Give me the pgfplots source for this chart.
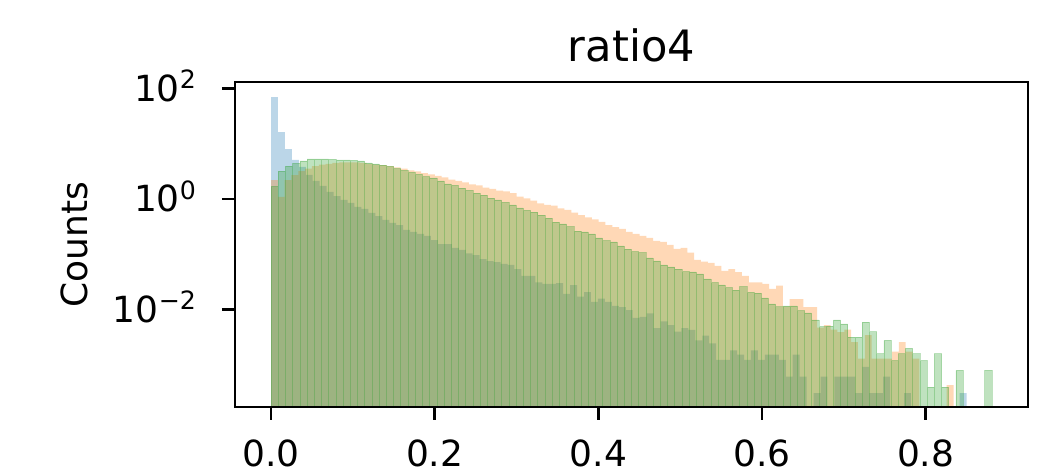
\documentclass[border=0pt]{standalone}
\usepackage{fontspec}
\setmainfont{DejaVu Sans}
\usepackage{pgfplots}
\pgfplotsset{compat=1.18}
\definecolor{c0}{RGB}{31,119,180}
\definecolor{c1}{RGB}{255,127,14}
\definecolor{c2}{RGB}{44,160,44}
\begin{document}
\begin{tikzpicture}
\begin{axis}[
  at={(0,0)}, anchor=south west,
  scale only axis, width=396.5pt, height=162.5pt,
  xmin=-0.044, xmax=0.925,
  ymode=log, ymin=1.72e-4, ymax=131,
  log origin y=infty,
  axis on top,
  tick pos=left, tick align=outside,
  major tick length=6.5pt,
  every tick/.style={black, line width=1.45pt},
  axis line style={line width=1.45pt},
  xtick={0,0.2,0.4,0.6,0.8},
  xticklabels={0.0,0.2,0.4,0.6,0.8},
  ytick={1e-2,1,1e2},
  yticklabels={10\textsuperscript{−2},10\textsuperscript{0},10\textsuperscript{2}},
  yminorticks=false,
  xticklabel style={font=\fontsize{18}{21}\selectfont, anchor=base, yshift=-23.25pt},
  yticklabel style={font=\fontsize{18}{21}\selectfont, anchor=base east, yshift=-6.5pt, xshift=-9pt},
  title={ratio4},
  title style={font=\fontsize{21.6}{25}\selectfont, at={(0.5,1)}, anchor=base, yshift=4pt},
  ylabel={Counts},
  ylabel style={font=\fontsize{18}{21}\selectfont, at={(axis description cs:-0.1866,0.5)}, anchor=base, rotate=0},
]
% blue series
\addplot[ybar interval, fill=c0, fill opacity=0.3, draw=none] table {
0 70
0.0085 16.3
0.017 8.0
0.0255 5.1
0.034 3.8
0.0425 2.72
0.051 2.12
0.0595 1.72
0.068 1.34
0.0765 1.13
0.085 0.96
0.0935 0.85
0.102 0.72
0.1105 0.66
0.119 0.56
0.1275 0.49
0.136 0.42
0.1445 0.37
0.153 0.338
0.1615 0.275
0.17 0.253
0.1785 0.233
0.187 0.214
0.1955 0.181
0.204 0.153
0.2125 0.153
0.221 0.130
0.2295 0.120
0.238 0.104
0.2465 0.096
0.255 0.082
0.2635 0.075
0.272 0.072
0.2805 0.067
0.289 0.064
0.2975 0.054
0.306 0.0404
0.3145 0.0404
0.323 0.031
0.3315 0.029
0.34 0.029
0.3485 0.030
0.357 0.0191
0.3655 0.0277
0.374 0.0171
0.3825 0.0207
0.391 0.0137
0.3995 0.0158
0.408 0.0137
0.4165 0.0116
0.425 0.0110
0.4335 0.00976
0.442 0.00702
0.4505 0.00732
0.459 0.00854
0.4675 0.00458
0.476 0.00610
0.4845 0.00519
0.493 0.00397
0.5015 0.00458
0.51 0.00427
0.5185 0.00275
0.527 0.00336
0.5355 0.00244
0.544 0.00122
0.5525 0.00122
0.561 0.00183
0.5695 0.00153
0.578 0.00122
0.5865 0.00183
0.595 0.00122
0.6035 0.00153
0.612 0.00153
0.6205 0.00122
0.629 0.00061
0.6375 0.00153
0.646 0.00061
0.6545 1e-8
0.663 0.000305
0.6715 0.00061
0.68 1e-8
0.6885 0.00061
0.697 0.00061
0.7055 0.00061
0.714 0.000305
0.7225 0.000915
0.731 0.000305
0.7395 0.000305
0.748 0.00061
0.7565 1e-8
0.765 1e-8
0.7735 0.000305
0.782 1e-8
0.7905 1e-8
0.799 1e-8
0.8075 1e-8
0.816 1e-8
0.8245 1e-8
0.833 1e-8
0.8415 0.000305
0.85 1e-8
};
% orange series
\addplot[ybar interval, fill=c1, fill opacity=0.3, draw=none] table {
0 2.2
0.00834 1.09
0.01668 2.2
0.02502 2.7
0.03336 3.2
0.0417 3.56
0.05004 3.95
0.05838 4.2
0.06672 4.3
0.07506 4.5
0.0834 4.6
0.09174 4.6
0.10008 4.58
0.10842 4.5
0.11676 4.3
0.1251 4.2
0.13344 4.1
0.14178 3.95
0.15012 3.72
0.15846 3.56
0.1668 3.28
0.17514 3.15
0.18348 2.95
0.19182 2.78
0.20016 2.61
0.2085 2.45
0.21684 2.25
0.22518 2.12
0.23352 1.99
0.24186 1.83
0.2502 1.76
0.25854 1.61
0.26688 1.52
0.27522 1.42
0.28356 1.37
0.2919 1.27
0.30024 1.10
0.30858 1.03
0.31692 0.93
0.32526 0.836
0.3336 0.779
0.34194 0.756
0.35028 0.679
0.35862 0.632
0.36696 0.565
0.3753 0.513
0.38364 0.466
0.39198 0.429
0.40032 0.384
0.40866 0.338
0.417 0.308
0.42534 0.287
0.43368 0.253
0.44202 0.233
0.45036 0.214
0.4587 0.197
0.46704 0.174
0.47538 0.167
0.48372 0.147
0.49206 0.125
0.5004 0.130
0.50874 0.107
0.51708 0.079
0.52542 0.0735
0.53376 0.0695
0.5421 0.0614
0.55044 0.050
0.55878 0.054
0.56712 0.0477
0.57546 0.0404
0.5838 0.0311
0.59214 0.0311
0.60048 0.029
0.60882 0.0235
0.61716 0.027
0.6255 0.0114
0.63384 0.0154
0.64218 0.0154
0.65052 0.011
0.65886 0.011
0.6672 0.0047
0.67554 0.0052
0.68388 0.0043
0.69222 0.0039
0.70056 0.0043
0.7089 0.00258
0.71724 0.00129
0.72558 0.00344
0.73392 0.00129
0.74226 0.00129
0.7506 0.00129
0.75894 0.00172
0.76728 0.00258
0.77562 0.00172
0.78396 0.00129
0.7923 1e-8
0.80064 1e-8
0.80898 1e-8
0.81732 1e-8
0.82566 0.00043
0.834 1e-8
};
% green series
\addplot[ybar interval, fill=c2, fill opacity=0.3, draw=c2, draw opacity=0.3, line width=0.3pt] table {
0 1.7
0.00881 3.2
0.01762 3.95
0.02643 4.4
0.03524 4.9
0.04405 5.3
0.05286 5.3
0.06167 5.3
0.07048 5.2
0.07929 5.08
0.0881 5.08
0.09691 4.98
0.10572 4.87
0.11453 4.5
0.12334 4.3
0.13215 4.1
0.14096 3.9
0.14977 3.56
0.15858 3.28
0.16739 3.02
0.1762 2.78
0.18501 2.55
0.19382 2.40
0.20263 2.12
0.21144 1.87
0.22025 1.76
0.22906 1.58
0.23787 1.43
0.24668 1.28
0.25549 1.18
0.2643 1.04
0.27311 0.96
0.28192 0.87
0.29073 0.78
0.29954 0.69
0.30835 0.62
0.31716 0.58
0.32597 0.51
0.33478 0.45
0.34359 0.38
0.3524 0.353
0.36121 0.315
0.37002 0.263
0.37883 0.253
0.38764 0.233
0.39645 0.197
0.40526 0.177
0.41407 0.167
0.42288 0.141
0.43169 0.124
0.4405 0.111
0.44931 0.107
0.45812 0.0856
0.46693 0.0755
0.47574 0.0640
0.48455 0.0590
0.49336 0.0536
0.50217 0.0484
0.51098 0.0478
0.51979 0.0439
0.5286 0.0357
0.53741 0.0306
0.54622 0.0278
0.55503 0.0248
0.56384 0.0225
0.57265 0.0260
0.58146 0.0205
0.59027 0.0197
0.59908 0.0162
0.60789 0.0126
0.6167 0.0112
0.62551 0.0116
0.63432 0.0116
0.64313 0.0095
0.65194 0.0087
0.66075 0.0065
0.66956 0.0049
0.67837 0.0050
0.68718 0.0065
0.69599 0.0055
0.7048 0.00316
0.71361 0.00316
0.72242 0.0059
0.73123 0.00395
0.74004 0.00158
0.74885 0.00277
0.75766 0.00119
0.76647 0.00158
0.77528 0.00198
0.78409 0.00158
0.7929 0.00119
0.80171 0.000395
0.81052 0.00158
0.81933 0.000395
0.82814 1e-8
0.83695 0.00079
0.84576 1e-8
0.85457 1e-8
0.86338 1e-8
0.87219 0.00079
0.881 1e-8
};
\end{axis}
\pgfresetboundingbox
\path[use as bounding box] (-117.5pt,-33.5pt) rectangle (410pt,203.5pt);
\end{tikzpicture}
\end{document}
